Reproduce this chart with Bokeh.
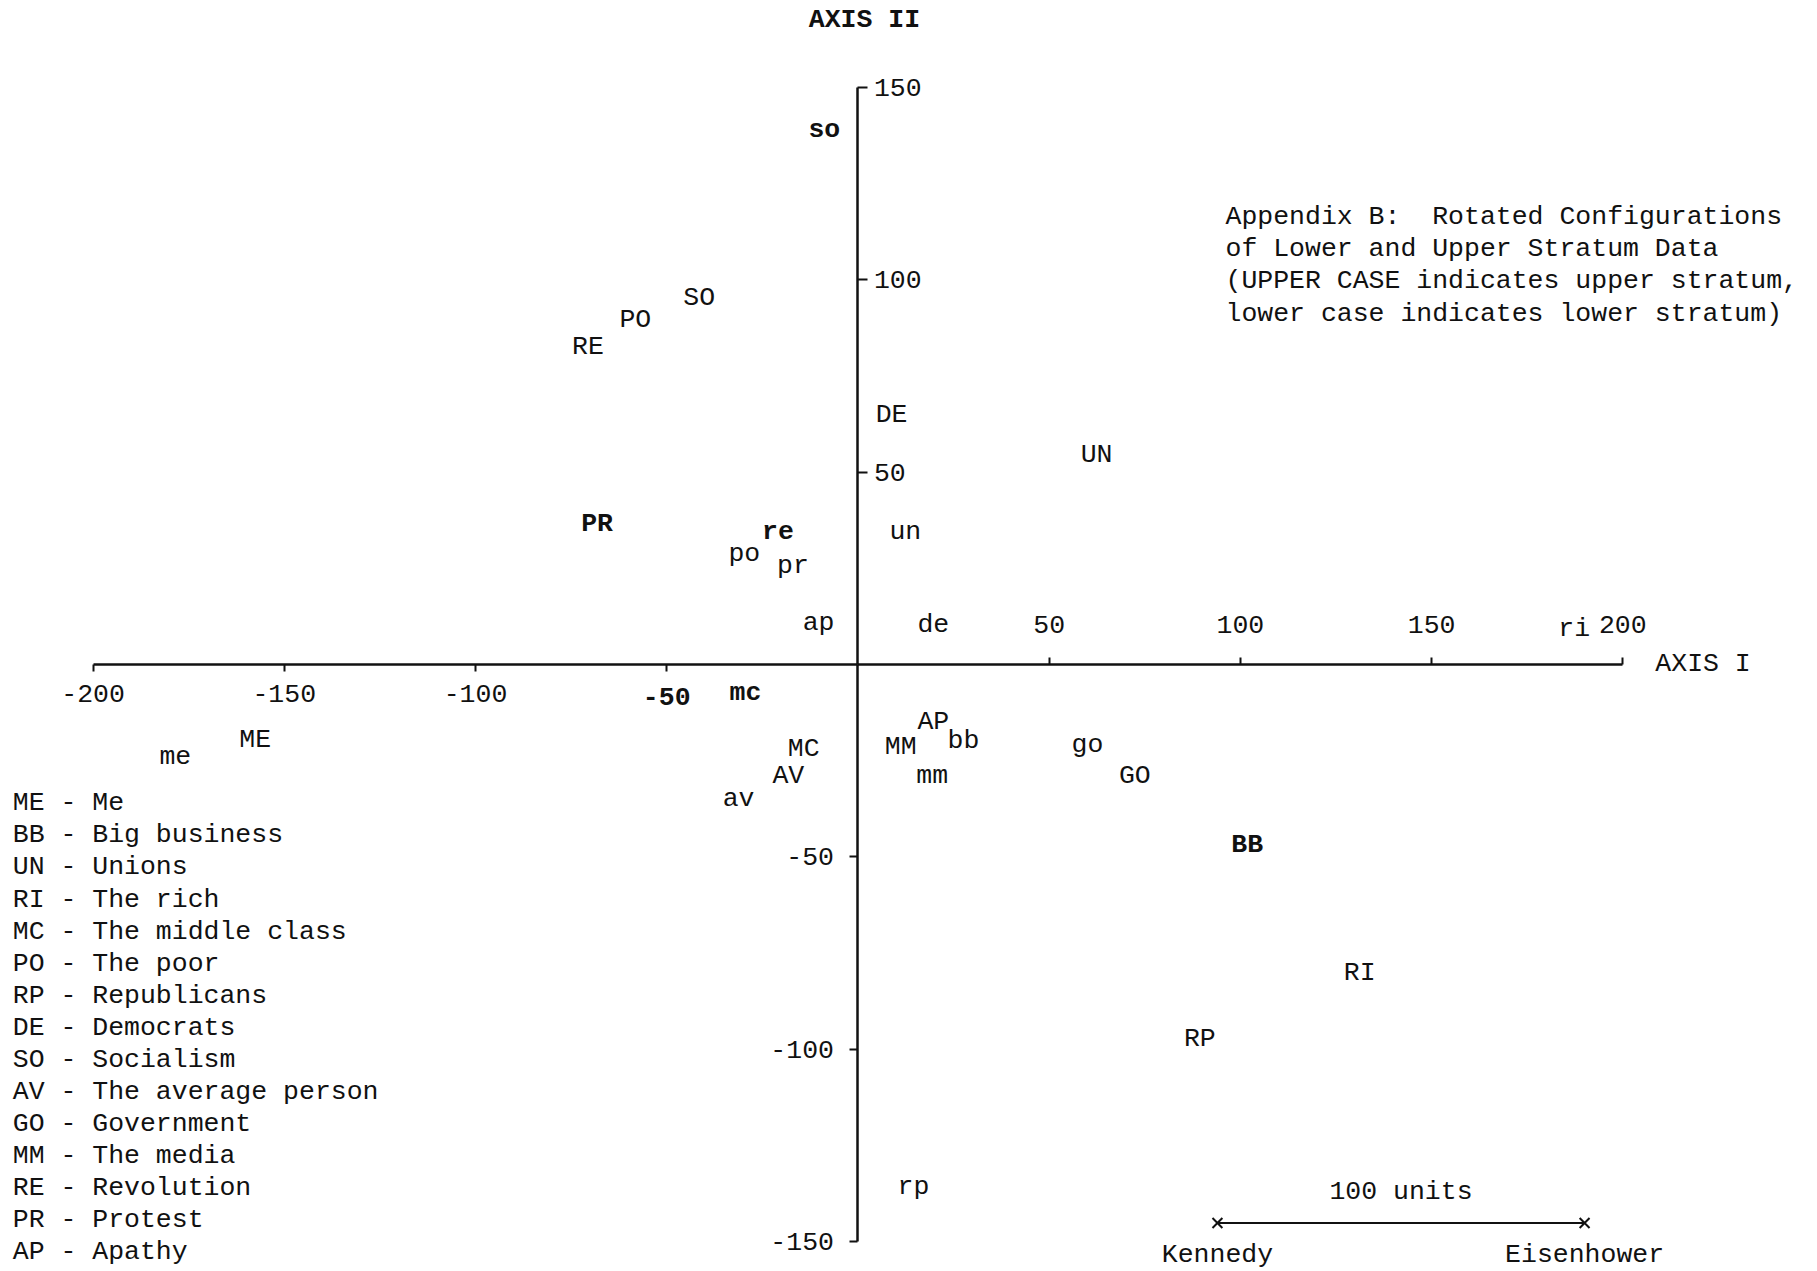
from bokeh.plotting import figure
from bokeh.models import LinearAxis, FixedTicker, ColumnDataSource
from bokeh.embed import file_html
from bokeh.resources import INLINE
from bokeh.core.properties import value

# ---- data (label positions on the two rotated axes) ----
upper_codes = ["SO", "PO", "RE", "DE", "UN", "PR", "ME", "MC", "AV", "MM", "AP", "GO", "BB", "RI", "RP"]
upper_x = [-41.5, -58.2, -70.6, 8.8, 62.4, -68.2, -157.6, -14.2, -18.2, 11.2, 19.7, 72.4, 101.8, 131.2, 89.4]
upper_y = [95.1, 89.4, 82.5, 64.7, 54.5, 36.4, -19.6, -22.0, -28.9, -21.4, -15.0, -28.9, -47.0, -80.1, -97.2]

lower_codes = ["so", "re", "po", "pr", "un", "ap", "de", "ri", "mc", "me", "bb", "mm", "go", "av", "rp"]
lower_x = [-8.8, -20.9, -29.7, -17.0, 12.4, -10.3, 19.7, 187.3, -29.4, -178.5, 27.6, 19.4, 60.0, -31.2, 14.5]
lower_y = [138.8, 34.3, 28.6, 25.6, 34.3, 10.8, 10.2, 9.3, -7.5, -24.1, -19.9, -28.9, -20.8, -34.9, -135.7]

bold_labels = ["PR", "BB", "so", "re", "mc"]

xneg_ticks = [-200, -150, -100, -50]
xpos_ticks = [50, 100, 150, 200]
ypos_ticks = [50, 100, 150]
yneg_ticks = [-150, -100, -50]
bold_xtick = -50

legend_codes = ["ME", "BB", "UN", "RI", "MC", "PO", "RP", "DE", "SO", "AV", "GO", "MM", "RE", "PR", "AP"]
legend_names = ["Me", "Big business", "Unions", "The rich", "The middle class", "The poor",
                "Republicans", "Democrats", "Socialism", "The average person", "Government",
                "The media", "Revolution", "Protest", "Apathy"]

title_lines = ["Appendix B:\u00a0 Rotated Configurations",
               "of Lower and Upper Stratum Data",
               "(UPPER CASE indicates upper stratum,",
               "lower case indicates lower stratum)"]

ref_names = ["Kennedy", "Eisenhower"]
ref_x = [94.0, 190.0]
ref_y = [-145.1, -145.1]
ref_units = "100 units"

# ---- styling ----
FONT = "Liberation Mono"
FS = "26.5px"
INK = "#111111"

p = figure(width=1817, height=1271, x_range=(-224.2, 250.9), y_range=(-157.7, 172.5),
           output_backend="svg", toolbar_location=None, min_border=0,
           x_axis_location=None, y_axis_location=None)
p.grid.visible = False
p.outline_line_color = None
p.background_fill_color = "white"
p.border_fill_color = "white"


def style_axis(ax, ticks, tin, tout, standoff, hidden=()):
    ax.ticker = FixedTicker(ticks=ticks)
    ax.major_label_overrides = {t: ("" if t in hidden else str(t)) for t in ticks}
    ax.axis_line_color = INK
    ax.axis_line_width = 2.5
    ax.major_tick_line_color = INK
    ax.major_tick_line_width = 2
    ax.major_tick_in = tin
    ax.major_tick_out = tout
    ax.minor_tick_line_color = None
    ax.major_label_text_font = FONT
    ax.major_label_text_font_size = FS
    ax.major_label_text_color = INK
    ax.major_label_standoff = standoff


xneg = LinearAxis(bounds=(-200, 0), fixed_location=0)
style_axis(xneg, xneg_ticks, 0, 7, 14, hidden=(bold_xtick,))
p.add_layout(xneg, "below")

xpos = LinearAxis(bounds=(0, 200), fixed_location=0)
style_axis(xpos, xpos_ticks, 0, 7, 24)
p.add_layout(xpos, "above")

ypos = LinearAxis(bounds=(0, 150), fixed_location=0)
style_axis(ypos, ypos_ticks, 0, 10, 6)
p.add_layout(ypos, "right")

yneg = LinearAxis(bounds=(-150, 0), fixed_location=0)
style_axis(yneg, yneg_ticks, 0, 8, 16)
p.add_layout(yneg, "left")

# bold "-50" tick label on axis I (typed heavier in the original)
p.text(x=[bold_xtick], y=[-8.2], text=[str(bold_xtick)], text_font=value(FONT), text_font_size=FS,
       text_font_style="bold", text_color=INK, text_align="center", text_baseline="middle")

# ---- point labels ----
codes = upper_codes + lower_codes
src = ColumnDataSource(dict(
    x=upper_x + lower_x,
    y=upper_y + lower_y,
    t=codes,
    st=["bold" if c in bold_labels else "normal" for c in codes],
))
p.text(x="x", y="y", text="t", source=src, text_font=value(FONT), text_font_size=FS,
       text_font_style="st", text_color=INK, text_align="center", text_baseline="middle")

# ---- axis titles ----
p.text(x=[1.7], y=[167.4], text=["AXIS II"], text_font=value(FONT), text_font_size=FS,
       text_font_style="bold", text_color=INK, text_align="center", text_baseline="middle")
p.text(x=[208.5], y=[0.0], text=["AXIS I"], text_font=value(FONT), text_font_size=FS,
       text_color=INK, text_align="left", text_baseline="middle")

# ---- title block ----
title_top, title_step = 116.2, 8.34
p.text(x=[96.1] * len(title_lines), y=[title_top - i * title_step for i in range(len(title_lines))],
       text=title_lines, text_font=value(FONT), text_font_size=FS, text_color=INK,
       text_align="left", text_baseline="middle")

# ---- key ----
leg_top, leg_step = -36.1, 8.319
p.text(x=[-221.0] * len(legend_codes), y=[leg_top - i * leg_step for i in range(len(legend_codes))],
       text=[f"{c} - {n}" for c, n in zip(legend_codes, legend_names)],
       text_font=value(FONT), text_font_size=FS, text_color=INK,
       text_align="left", text_baseline="middle")

# ---- Kennedy / Eisenhower scale bar ----
p.line(x=ref_x, y=ref_y, line_color=INK, line_width=2)
p.scatter(x=ref_x, y=ref_y, marker="x", size=14, line_color=INK, line_width=2)
p.text(x=ref_x, y=[v - 8.4 for v in ref_y], text=ref_names, text_font=value(FONT), text_font_size=FS,
       text_color=INK, text_align="center", text_baseline="middle")
p.text(x=[(ref_x[0] + ref_x[1]) / 2], y=[ref_y[0] + 8.1], text=[ref_units], text_font=value(FONT),
       text_font_size=FS, text_color=INK, text_align="center", text_baseline="middle")

open("out.html", "w").write(file_html(p, INLINE))
